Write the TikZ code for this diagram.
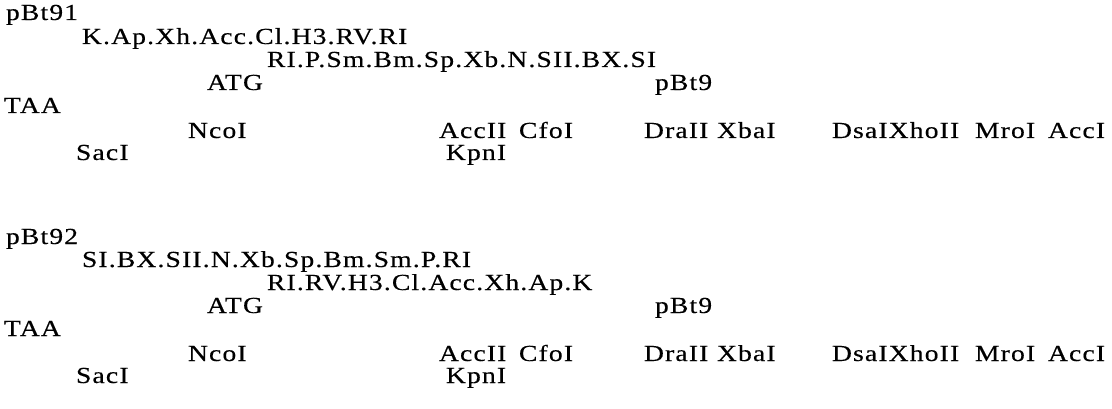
\documentclass[tikz,border=0pt]{standalone}
\usepackage{fontspec}
\setmainfont{Liberation Serif}[FakeStretch=1.2,LetterSpace=5,FakeBold=0.4]
\begin{document}
\begin{tikzpicture}[x=1pt,y=1pt,
  lbl/.style={anchor=base west,inner sep=0pt,outer sep=0pt,font=\fontsize{23}{23}\selectfont}]
\useasboundingbox (0,0) rectangle (1112,-409);
% ---- pBt91 ----
\node[lbl] (a1)  at (6,-20)   {pBt91};
\node[lbl] (a2)  at (82,-44)  {K.Ap.Xh.Acc.Cl.H3.RV.RI};
\node[lbl] (a3)  at (267,-67) {RI.P.Sm.Bm.Sp.Xb.N.SII.BX.SI};
\node[lbl] (a4)  at (207,-90) {ATG};
\node[lbl] (a5)  at (655,-90) {pBt9};
\node[lbl] (a6)  at (4,-113)  {TAA};
\node[lbl] (a7)  at (188,-138) {NcoI};
\node[lbl] (a8)  at (439,-138) {AccII};
\node[lbl] (a9)  at (519,-138) {CfoI};
\node[lbl] (a10) at (644,-138) {DraII};
\node[lbl] (a11) at (717,-138) {XbaI};
\node[lbl] (a12) at (832,-138) {DsaIXhoII};
\node[lbl] (a13) at (975,-138) {MroI};
\node[lbl] (a14) at (1048,-138) {AccI};
\node[lbl] (a15) at (76,-160)  {SacI};
\node[lbl] (a16) at (446,-160) {KpnI};
% ---- pBt92 ----
\node[lbl] (b1)  at (6,-244)   {pBt92};
\node[lbl] (b2)  at (82,-267)  {SI.BX.SII.N.Xb.Sp.Bm.Sm.P.RI};
\node[lbl] (b3)  at (267,-290) {RI.RV.H3.Cl.Acc.Xh.Ap.K};
\node[lbl] (b4)  at (207,-313) {ATG};
\node[lbl] (b5)  at (655,-313) {pBt9};
\node[lbl] (b6)  at (4,-336)   {TAA};
\node[lbl] (b7)  at (188,-361) {NcoI};
\node[lbl] (b8)  at (439,-361) {AccII};
\node[lbl] (b9)  at (519,-361) {CfoI};
\node[lbl] (b10) at (644,-361) {DraII};
\node[lbl] (b11) at (717,-361) {XbaI};
\node[lbl] (b12) at (832,-361) {DsaIXhoII};
\node[lbl] (b13) at (975,-361) {MroI};
\node[lbl] (b14) at (1048,-361) {AccI};
\node[lbl] (b15) at (76,-383)  {SacI};
\node[lbl] (b16) at (446,-383) {KpnI};
\end{tikzpicture}
\end{document}
